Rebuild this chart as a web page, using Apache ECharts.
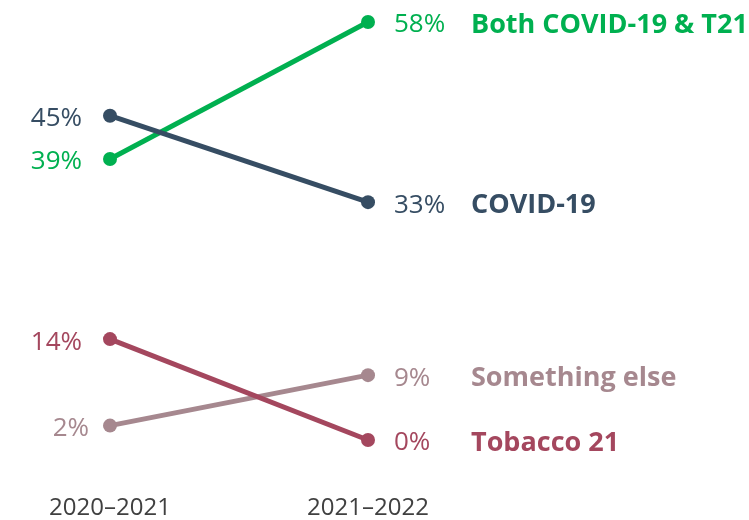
<!DOCTYPE html>
<html>
<head>
<meta charset="utf-8">
<script src="https://cdn.jsdelivr.net/npm/echarts@6/dist/echarts.min.js"></script>
<style>
  html, body { margin: 0; padding: 0; background: #fff; }
  #chart { width: 749px; height: 520px; }
</style>
</head>
<body>
<div id="chart"></div>
<script>
// Periods compared on the x axis
const periods = ['2020\u20132021', '2021\u20132022'];

// Share of responses per topic, in percent, for each period
const bothCovidT21 = [39, 58];
const covid19 = [45, 33];
const somethingElse = [2, 9];
const tobacco21 = [14, 0];

const seriesNames = ['Both COVID-19 & T21', 'COVID-19', 'Something else', 'Tobacco 21'];
const seriesValues = [bothCovidT21, covid19, somethingElse, tobacco21];
const seriesColors = ['#00b050', '#364d63', '#a6888f', '#a4475e'];
// Extra horizontal nudge for the left-hand value labels
const leftNudge = [0, 0, 7, 0];

const FONT = '"Open Sans", "Noto Sans", sans-serif';
const LABEL_SIZE = 26;
const NAME_SIZE = 27;

function buildSeries(name, values, color, nudge) {
  return {
    name: name,
    type: 'line',
    data: values.map(function (v, i) {
      if (i === 0) {
        return {
          value: v,
          label: {
            show: true,
            position: 'left',
            distance: 21,
            offset: [nudge, 3],
            formatter: '{c}%',
            color: color,
            fontSize: LABEL_SIZE,
            fontFamily: FONT
          }
        };
      }
      return {
        value: v,
        label: {
          show: true,
          position: 'right',
          distance: 19,
          offset: [0, 3],
          formatter: function (p) { return '{v|' + p.value + '%}{n|' + name + '}'; },
          rich: {
            v: { width: 77, color: color, fontSize: LABEL_SIZE, fontFamily: FONT },
            n: { color: color, fontSize: NAME_SIZE, fontWeight: 'bold', fontFamily: FONT }
          }
        }
      };
    }),
    symbol: 'circle',
    symbolSize: 14,
    lineStyle: { color: color, width: 5 },
    itemStyle: { color: color },
    emphasis: { disabled: true },
    animation: false
  };
}

const chart = echarts.init(document.getElementById('chart'), null, { renderer: 'canvas' });
chart.setOption({
  backgroundColor: '#ffffff',
  grid: { left: 110, right: 381, top: 22, bottom: 79, containLabel: false },
  xAxis: {
    type: 'category',
    data: periods,
    boundaryGap: false,
    axisLine: { show: false },
    axisTick: { show: false },
    splitLine: { show: false },
    axisLabel: {
      margin: 56,
      color: '#404040',
      fontSize: 24,
      fontFamily: FONT
    }
  },
  yAxis: {
    type: 'value',
    min: 0,
    max: 58,
    show: false
  },
  series: seriesNames.map(function (n, i) {
    return buildSeries(n, seriesValues[i], seriesColors[i], leftNudge[i]);
  })
});
</script>
</body>
</html>
